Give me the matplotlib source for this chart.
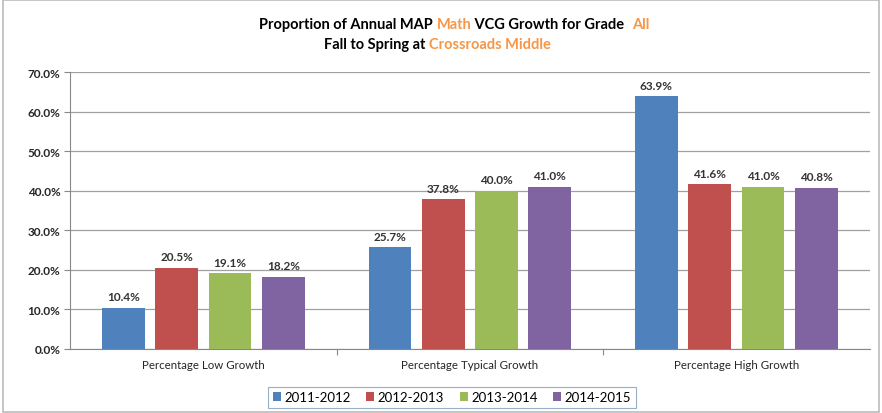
import numpy as np
import matplotlib
matplotlib.use('Agg')
import matplotlib.pyplot as plt
from matplotlib.patches import Rectangle
from matplotlib.ticker import PercentFormatter

plt.rcParams['font.family'] = ['Lato', 'DejaVu Sans']

categories = ['Percentage Low Growth', 'Percentage Typical Growth', 'Percentage High Growth']
years = ['2011-2012', '2012-2013', '2013-2014', '2014-2015']
values = {
    '2011-2012': [10.4, 25.7, 63.9],
    '2012-2013': [20.5, 37.8, 41.6],
    '2013-2014': [19.1, 40.0, 41.0],
    '2014-2015': [18.2, 41.0, 40.8],
}
colours = ['#4F81BD', '#C0504D', '#9BBB59', '#8064A2']
orange = '#F79646'

fig = plt.figure(figsize=(8.82, 4.14), dpi=100)
ax = fig.add_axes([0.0794, 0.1546, 0.9066, 0.669])

x = np.arange(len(categories))
width = 0.16
step = 0.2
for i, yr in enumerate(years):
    pos = x + (i - 1.5) * step
    bars = ax.bar(pos, values[yr], width, color=colours[i], label=yr, zorder=3)
    for b, v in zip(bars, values[yr]):
        ax.text(b.get_x() + b.get_width() / 2, v + 1.4, '%.1f%%' % v,
                ha='center', va='bottom', fontsize=8.5, fontweight='bold', color='#333333')

ax.set_xlim(-0.5, 2.5)
ax.set_ylim(0, 70)
ax.set_yticks(np.arange(0, 71, 10))
ax.yaxis.set_major_formatter(PercentFormatter(decimals=1))
ax.grid(axis='y', color='#A0A0A0', linewidth=0.9, zorder=0)
ax.set_xticks([0.5, 1.5])
ax.set_xticklabels([])
ax.tick_params(axis='x', length=4, color='#888888')
ax.tick_params(axis='y', length=4, color='#888888', labelsize=8.5, labelcolor='#262626', pad=3)
for lbl in ax.get_yticklabels():
    lbl.set_fontweight('bold')
for i, c in enumerate(categories):
    ax.text(i, -3.8, c, ha='center', va='center', fontsize=8.3, color='#262626')
for s in ['top', 'right']:
    ax.spines[s].set_visible(False)
for s in ['left', 'bottom']:
    ax.spines[s].set_color('#888888')

leg = ax.legend(loc='center', bbox_to_anchor=(0.5125, 0.038), bbox_transform=fig.transFigure,
                ncol=4, fontsize=9.5, frameon=True, fancybox=False, edgecolor='#7F9DB9',
                handlelength=0.6, handleheight=0.6, handletextpad=0.25, columnspacing=1.2,
                borderpad=0.35, borderaxespad=0)
leg.get_frame().set_linewidth(0.8)

# chart border
fig.patches.append(Rectangle((0.003, 0.003), 0.994, 0.994, transform=fig.transFigure,
                             fill=False, edgecolor='#BBBBBB', linewidth=1.2))

# two-line title with orange highlights
def title_line(parts, y, cx):
    pieces = [fig.text(0, y, txt, color=col, fontsize=10.5, fontweight='bold',
                       ha='left', va='center') for txt, col in parts]
    fig.canvas.draw()
    r = fig.canvas.get_renderer()
    widths = [p.get_window_extent(r).width / fig.bbox.width for p in pieces]
    xpos = cx - sum(widths) / 2
    for p, w in zip(pieces, widths):
        p.set_position((xpos, y))
        xpos += w

title_line([('Proportion of Annual MAP ', 'black'), ('Math', orange),
            (' VCG Growth for Grade  ', 'black'), ('All', orange)], 1 - 25 / 414, 0.515)
title_line([('Fall to Spring at ', 'black'), ('Crossroads Middle', orange)], 1 - 45 / 414, 0.496)

fig.savefig('out.png', dpi=100)
